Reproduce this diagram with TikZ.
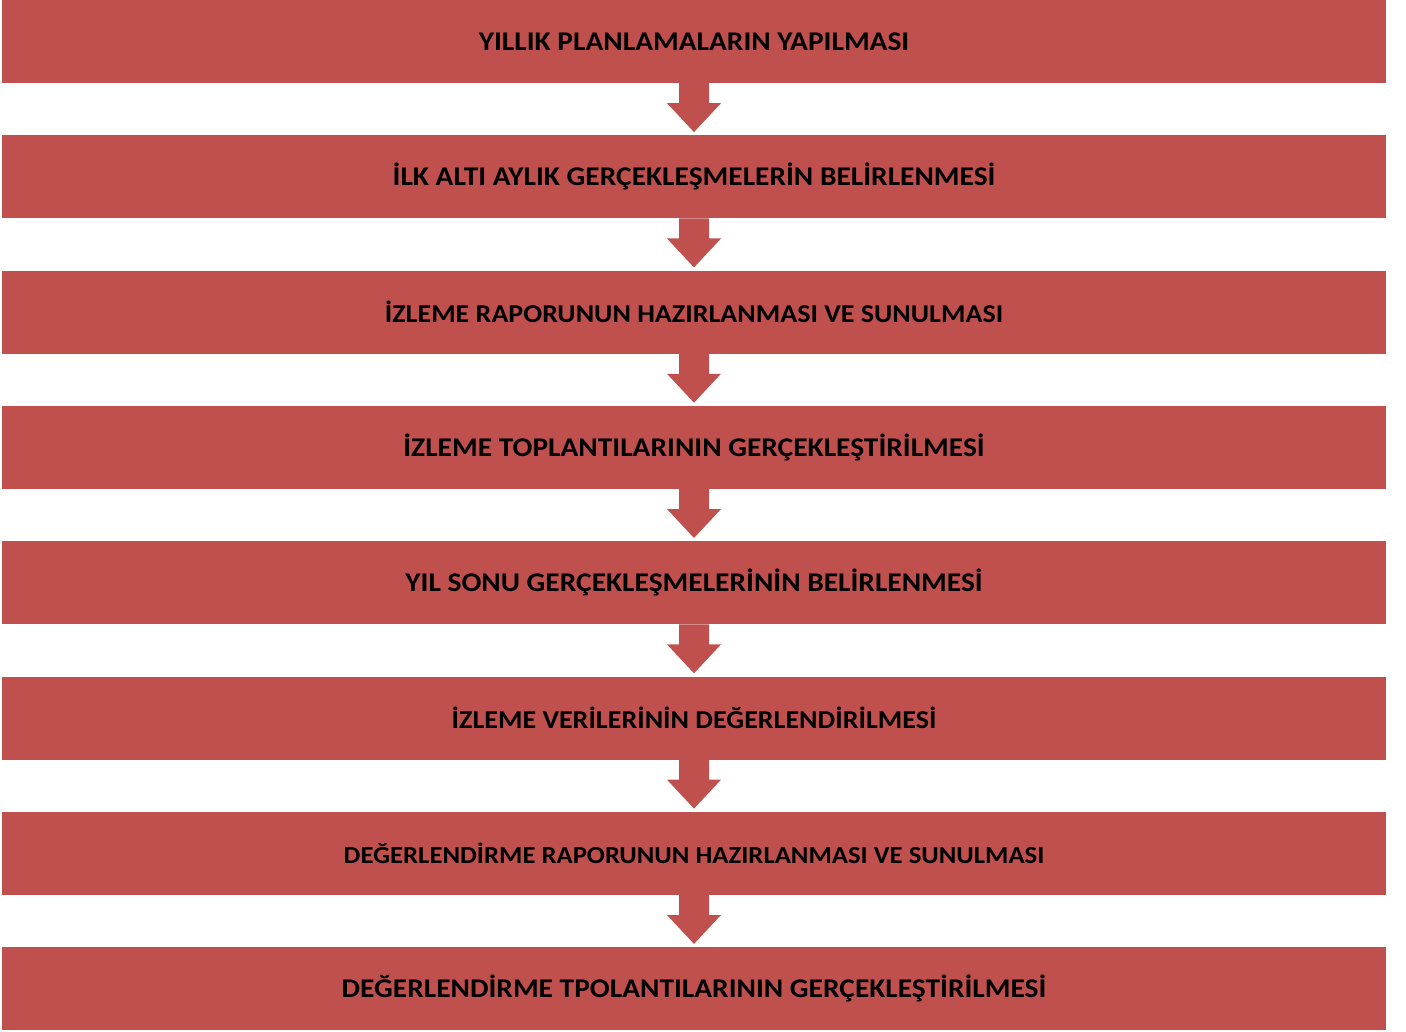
\documentclass[tikz,border=0pt]{standalone}
\usepackage{fontspec}
\setmainfont{Carlito}
\usetikzlibrary{calc}
\definecolor{boxred}{HTML}{C0504D}
\newcommand{\lbl}[1]{\scalebox{1.09}[1]{#1}}
\tikzset{
  box/.style={fill=boxred, draw=none, minimum width=1384pt, minimum height=83pt, inner sep=0pt,
    text=black, font=\fontsize{27}{32}\selectfont\bfseries},
  smaller/.style={font=\fontsize{#1}{32}\selectfont\bfseries},
  arr/.style={fill=boxred, draw=none}
}
\newcommand{\downarrowshape}[2]{%
  \fill[arr] ($(#1.south)+(-15,0)$) -- ($(#1.south)+(-15,20)$) -- ($(#1.south)+(-27,20)$)
    -- ($(#2.north)+(0,-3)$) -- ($(#1.south)+(27,20)$) -- ($(#1.south)+(15,20)$)
    -- ($(#1.south)+(15,0)$) -- cycle;}
\begin{document}
\begin{tikzpicture}[x=1pt,y=-1pt]
\useasboundingbox (0,0) rectangle (1406,1032);
\node[box] (b1) at (694,41.5) {\lbl{YILLIK PLANLAMALARIN YAPILMASI}};
\node[box] (b2) at (694,176.8) {\lbl{İLK ALTI AYLIK GERÇEKLEŞMELERİN BELİRLENMESİ}};
\node[box, smaller=25.7] (b3) at (694,312.1) {\lbl{İZLEME RAPORUNUN HAZIRLANMASI VE SUNULMASI}};
\node[box] (b4) at (694,447.4) {\lbl{İZLEME TOPLANTILARININ GERÇEKLEŞTİRİLMESİ}};
\node[box] (b5) at (694,582.7) {\lbl{YIL SONU GERÇEKLEŞMELERİNİN BELİRLENMESİ}};
\node[box, smaller=25.7] (b6) at (694,718.0) {\lbl{İZLEME VERİLERİNİN DEĞERLENDİRİLMESİ}};
\node[box, smaller=24.5] (b7) at (694,853.3) {\lbl{DEĞERLENDİRME RAPORUNUN HAZIRLANMASI VE SUNULMASI}};
\node[box] (b8) at (694,988.6) {\lbl{DEĞERLENDİRME TPOLANTILARININ GERÇEKLEŞTİRİLMESİ}};
\downarrowshape{b1}{b2}
\downarrowshape{b2}{b3}
\downarrowshape{b3}{b4}
\downarrowshape{b4}{b5}
\downarrowshape{b5}{b6}
\downarrowshape{b6}{b7}
\downarrowshape{b7}{b8}
\end{tikzpicture}
\end{document}
